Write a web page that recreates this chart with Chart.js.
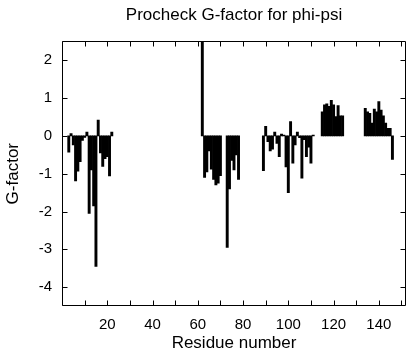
<!DOCTYPE html>
<html>
<head>
<meta charset="utf-8">
<script src="https://cdn.jsdelivr.net/npm/chart.js@4/dist/chart.umd.min.js"></script>
<style>
html,body{margin:0;padding:0;background:#fff;}
#wrap{width:416px;height:360px;}
</style>
</head>
<body>
<div id="wrap"><canvas id="c" width="416" height="360"></canvas></div>
<script>
// Residue numbers and G-factor values (phi-psi)
const cluster1Residues = [3,4,5,6,7,8,9,10,11,12,13,14,15,16,17,18,19,20,21,22];
const cluster1Values   = [-0.43,0.06,-0.24,-1.19,-0.93,-0.68,-0.12,-0.04,0.1,-2.05,-0.9,-1.85,-3.45,0.42,-0.45,-0.81,-0.6,-0.55,-1.06,0.1];
const cluster2Residues = [62,63,64,65,66,67,68,69,70,73,74,75,76,77,78];
const cluster2Values   = [2.7,-1.1,-0.95,-0.4,-0.88,-1.15,-1.3,-1.25,-1.05,-2.95,-1.4,-0.65,-0.9,-0.5,-1.15];
const cluster3Residues = [89,90,91,92,93,94,95,96,97,98,99,100,101,102,103,104,105,106,107,108,109,110,111];
const cluster3Values   = [-0.92,0.25,-0.15,-0.4,-0.35,0.1,-0.2,-0.55,0.05,0.02,-0.82,-1.5,0.38,-0.72,-0.24,0.1,-0.05,-1.12,-0.1,-0.55,-0.3,-0.72,0.02];
const cluster4Residues = [115,116,117,118,119,120,121,122,123,124];
const cluster4Values   = [0.64,0.82,0.85,0.78,0.94,0.82,0.51,0.8,0.53,0.53];
const cluster5Residues = [134,135,136,137,138,139,140,141,142,143,144,145,146];
const cluster5Values   = [0.73,0.64,0.6,0.34,0.71,0.64,0.91,0.68,0.53,0.34,0.2,0.2,-0.62];

const xTicks = [0,10,20,30,40,50,60,70,80,90,100,110,120,130,140,150];
const xTickLabels = [20,40,60,80,100,120,140];
const yTicks = [-4,-3,-2,-1,0,1,2];

const residues = [].concat(cluster1Residues, cluster2Residues, cluster3Residues, cluster4Residues, cluster5Residues);
const gFactor  = [].concat(cluster1Values, cluster2Values, cluster3Values, cluster4Values, cluster5Values);
const points = residues.map((r, i) => ({x: r, y: gFactor[i]}));

const FONT = "'Liberation Sans', Arial, Helvetica, sans-serif";

const framePlugin = {
  id: 'frame',
  afterDatasetsDraw(chart) {
    const {ctx, chartArea: a, scales: {x, y}} = chart;
    ctx.save();
    ctx.strokeStyle = '#000';
    ctx.lineWidth = 1;
    ctx.beginPath();
    const L = Math.round(a.left) + 0.5, R = Math.round(a.right) - 0.5;
    const T = Math.round(a.top) + 0.5, B = Math.round(a.bottom) - 0.5;
    ctx.rect(L, T, R - L, B - T);
    const tl = 5;
    xTicks.forEach(v => {
      const px = Math.round(x.getPixelForValue(v)) + 0.5;
      ctx.moveTo(px, B); ctx.lineTo(px, B - tl);
      ctx.moveTo(px, T); ctx.lineTo(px, T + tl);
    });
    yTicks.forEach(v => {
      const py = Math.round(y.getPixelForValue(v)) + 0.5;
      ctx.moveTo(L, py); ctx.lineTo(L + tl, py);
      ctx.moveTo(R, py); ctx.lineTo(R - tl, py);
    });
    ctx.stroke();
    ctx.restore();
  }
};

new Chart(document.getElementById('c'), {
  type: 'bar',
  data: {
    datasets: [{
      data: points,
      backgroundColor: '#000',
      borderWidth: 0,
      barPercentage: 1.0,
      categoryPercentage: 1.0
    }]
  },
  options: {
    responsive: false,
    animation: false,
    layout: {padding: {left: 0, right: 10, top: 0, bottom: 0}},
    plugins: {
      legend: {display: false},
      tooltip: {enabled: false},
      title: {
        display: true,
        fullSize: false,
        text: 'Procheck G-factor for phi-psi',
        color: '#000',
        font: {family: FONT, size: 17, weight: 'normal'},
        padding: {top: 5, bottom: 16}
      }
    },
    scales: {
      x: {
        type: 'linear',
        min: 0,
        max: 152,
        offset: false,
        grid: {display: false, drawTicks: false},
        border: {display: false},
        afterBuildTicks: s => { s.ticks = xTicks.map(v => ({value: v})); },
        afterFit: s => { s.height = 54; },
        ticks: {
          color: '#000',
          font: {family: FONT, size: 15},
          padding: 10,
          maxRotation: 0,
          autoSkip: false,
          callback: v => xTickLabels.includes(v) ? String(v) : ''
        },
        title: {
          display: true,
          text: 'Residue number',
          color: '#000',
          font: {family: FONT, size: 17},
          padding: {top: 0, bottom: 6}
        }
      },
      y: {
        type: 'linear',
        min: -4.5,
        max: 2.5,
        grid: {display: false, drawTicks: false},
        border: {display: false},
        afterBuildTicks: s => { s.ticks = yTicks.map(v => ({value: v})); },
        afterFit: s => { s.width = 62; },
        ticks: {
          color: '#000',
          font: {family: FONT, size: 15},
          padding: 10,
          callback: v => String(v)
        },
        title: {
          display: true,
          text: 'G-factor',
          color: '#000',
          font: {family: FONT, size: 17},
          padding: {top: 3, bottom: 0}
        }
      }
    }
  },
  plugins: [framePlugin]
});
</script>
</body>
</html>
